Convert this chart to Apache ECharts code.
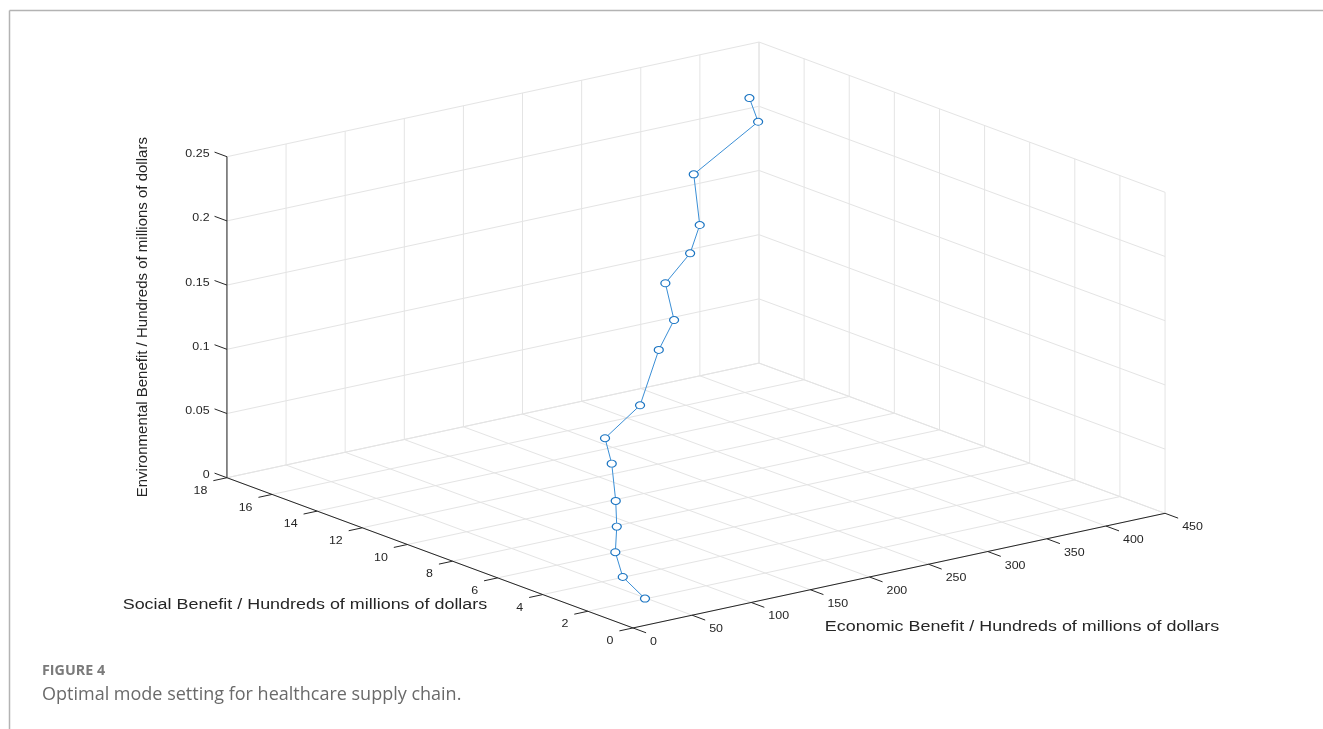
<!DOCTYPE html>
<html>
<head>
<meta charset="utf-8">
<script src="https://cdn.jsdelivr.net/npm/echarts@6/dist/echarts.min.js"></script>
<style>
  html, body { margin: 0; padding: 0; background: #ffffff; }
  #chart { width: 1323px; height: 729px; }
</style>
</head>
<body>
<div id="chart"></div>
<script>
// Optimal mode points: economic, social and environmental benefit (hundreds of millions of dollars)
const economic = [46.4, 52.4, 67.1, 89.3, 107.5, 125.1, 134.7, 181.5, 214.5, 242.7, 248.7, 286.8, 310.2, 322.3, 413.0, 419.0];
const social = [1.9, 3.2, 4.3, 5.4, 6.4, 7.5, 8.3, 9.2, 10.1, 10.9, 11.6, 12.5, 13.3, 14.2, 16.1, 16.8];
const environmental = [0.0013, 0.0085, 0.0177, 0.0261, 0.036, 0.0544, 0.0671, 0.0776, 0.1083, 0.1208, 0.1437, 0.1536, 0.1658, 0.197, 0.2076, 0.2203];

// Axis ticks
const econTicks = [0, 50, 100, 150, 200, 250, 300, 350, 400, 450];
const socialTicks = [0, 2, 4, 6, 8, 10, 12, 14, 16, 18];
const envTicks = [0, 0.05, 0.1, 0.15, 0.2, 0.25];
const envTickLabels = ['0', '0.05', '0.1', '0.15', '0.2', '0.25'];

const econTitle = 'Economic Benefit / Hundreds of millions of dollars';
const socialTitle = 'Social Benefit / Hundreds of millions of dollars';
const envTitle = 'Environmental Benefit / Hundreds of millions of dollars';

// Box limits and orthographic view (azimuth / elevation in degrees)
const LIM = { e: [0, 450], s: [0, 18], z: [0, 0.25] };
const VIEW = { az: -37.35, el: 16.4, scale: 669.3, aspect: [1, 1, 0.5] };

function project(e, s, z) {
  const X = ((e - LIM.e[0]) / (LIM.e[1] - LIM.e[0]) - 0.5) * VIEW.aspect[0];
  const Y = ((s - LIM.s[0]) / (LIM.s[1] - LIM.s[0]) - 0.5) * VIEW.aspect[1];
  const Z = ((z - LIM.z[0]) / (LIM.z[1] - LIM.z[0]) - 0.5) * VIEW.aspect[2];
  const az = VIEW.az * Math.PI / 180, el = VIEW.el * Math.PI / 180;
  const u = VIEW.scale * (X * Math.cos(az) + Y * Math.sin(az));
  const v = VIEW.scale * (-X * Math.sin(az) * Math.sin(el) + Y * Math.cos(az) * Math.sin(el) + Z * Math.cos(el));
  return [u, v];
}

// Grid, axis and tick segments of the 3D box
const GRID = '#e4e4e4', AXIS = '#262626';
const segments = [];
function seg(a, b, color) { segments.push({ a, b, color }); }
const eMax = LIM.e[1], sMax = LIM.s[1], zMax = LIM.z[1];
// floor z = 0
econTicks.forEach(e => seg([e, 0, 0], [e, sMax, 0], GRID));
socialTicks.forEach(s => seg([0, s, 0], [eMax, s, 0], GRID));
// back wall at social = max
econTicks.forEach(e => seg([e, sMax, 0], [e, sMax, zMax], GRID));
envTicks.forEach(z => seg([0, sMax, z], [eMax, sMax, z], GRID));
// side wall at economic = max
socialTicks.forEach(s => seg([eMax, s, 0], [eMax, s, zMax], GRID));
envTicks.forEach(z => seg([eMax, 0, z], [eMax, sMax, z], GRID));
// axis lines
seg([0, sMax, 0], [0, sMax, zMax], AXIS);
seg([0, 0, 0], [0, sMax, 0], AXIS);
seg([0, 0, 0], [eMax, 0, 0], AXIS);
// tick marks
envTicks.forEach(z => seg([0, sMax, z], [0, sMax + 0.55, z], AXIS));
socialTicks.forEach(s => seg([0, s, 0], [-11.5, s, 0], AXIS));
econTicks.forEach(e => seg([e, 0, 0], [e, -0.58, 0], AXIS));

// Tick labels and axis titles, anchored on projected points
const TICK_FONT = '11.5px "Liberation Sans", Arial, sans-serif';
const TITLE_FONT = '14px "Liberation Sans", Arial, sans-serif';
const texts = [];
envTicks.forEach((z, i) => texts.push({ p: [0, sMax + 0.55, z], text: envTickLabels[i], align: 'right', va: 'middle', dx: -5, dy: 2, font: TICK_FONT, sx: 1.08 }));
socialTicks.forEach(s => texts.push({ p: [-11.5, s, 0], text: String(s), align: 'right', va: 'middle', dx: -6, dy: 10, font: TICK_FONT, sx: 1.08 }));
econTicks.forEach(e => texts.push({ p: [e, -0.58, 0], text: String(e), align: 'left', va: 'middle', dx: 4, dy: 9, font: TICK_FONT, sx: 1.08 }));
texts.push({ p: [0, sMax, zMax / 2], text: envTitle, align: 'center', va: 'middle', dx: -84, dy: 0, font: '15px "Liberation Sans", Arial, sans-serif', rotation: Math.PI / 2, sx: 1 });
texts.push({ p: [0, sMax / 2, 0], text: socialTitle, align: 'center', va: 'middle', dx: -125, dy: 52, font: TITLE_FONT, sx: 1.28 });
texts.push({ p: [eMax / 2, 0, 0], text: econTitle, align: 'center', va: 'middle', dx: 123, dy: 57, font: TITLE_FONT, sx: 1.28 });

const points = economic.map((e, i) => project(e, social[i], environmental[i]));

const chart = echarts.init(document.getElementById('chart'), null, { renderer: 'canvas' });
chart.setOption({
  animation: false,
  backgroundColor: '#ffffff',
  grid: { left: 0, right: 0, top: 0, bottom: 0 },
  xAxis: { type: 'value', min: -696, max: 627, show: false },
  yAxis: { type: 'value', min: -394, max: 335, show: false },
  graphic: [
    { type: 'line', shape: { x1: 9.5, y1: 10.5, x2: 1323, y2: 10.5 }, style: { stroke: '#b3b3b3', lineWidth: 1.5 } },
    { type: 'line', shape: { x1: 9.5, y1: 10.5, x2: 9.5, y2: 729 }, style: { stroke: '#b3b3b3', lineWidth: 1.5 } },
    { type: 'text', left: 42, top: 664, style: { text: 'FIGURE 4', font: 'bold 14.3px "Open Sans", Lato, sans-serif', fill: '#7a7a7a' } },
    { type: 'text', left: 42, top: 686, style: { text: 'Optimal mode setting for healthcare supply chain.', font: '18px "Open Sans", Lato, sans-serif', fill: '#6a6a6a' } }
  ],
  series: [
    {
      type: 'custom',
      silent: true,
      z: 1,
      data: segments.map(sg => project(...sg.a)),
      renderItem: function (params, api) {
        const sg = segments[params.dataIndex];
        const p1 = api.coord(project(...sg.a));
        const p2 = api.coord(project(...sg.b));
        return {
          type: 'line',
          shape: { x1: p1[0], y1: p1[1], x2: p2[0], y2: p2[1] },
          style: { stroke: sg.color, lineWidth: 1 }
        };
      }
    },
    {
      type: 'custom',
      silent: true,
      z: 2,
      data: texts.map(t => project(...t.p)),
      renderItem: function (params, api) {
        const t = texts[params.dataIndex];
        const p = api.coord(project(...t.p));
        return {
          type: 'text',
          x: p[0] + t.dx,
          y: p[1] + t.dy,
          rotation: t.rotation || 0,
          scaleX: t.sx,
          style: { text: t.text, font: t.font, fill: '#262626', align: t.align, verticalAlign: t.va }
        };
      }
    },
    {
      type: 'line',
      z: 3,
      data: points,
      symbol: 'path://M0,5 A5,5 0 1 1 10,5 A5,5 0 1 1 0,5 Z',
      symbolSize: [9, 7],
      showSymbol: true,
      lineStyle: { color: '#3b8fd6', width: 1 },
      itemStyle: { color: '#ffffff', borderColor: '#1a74c2', borderWidth: 1.1 },
      emphasis: { disabled: true },
      silent: true
    }
  ]
});
</script>
</body>
</html>
